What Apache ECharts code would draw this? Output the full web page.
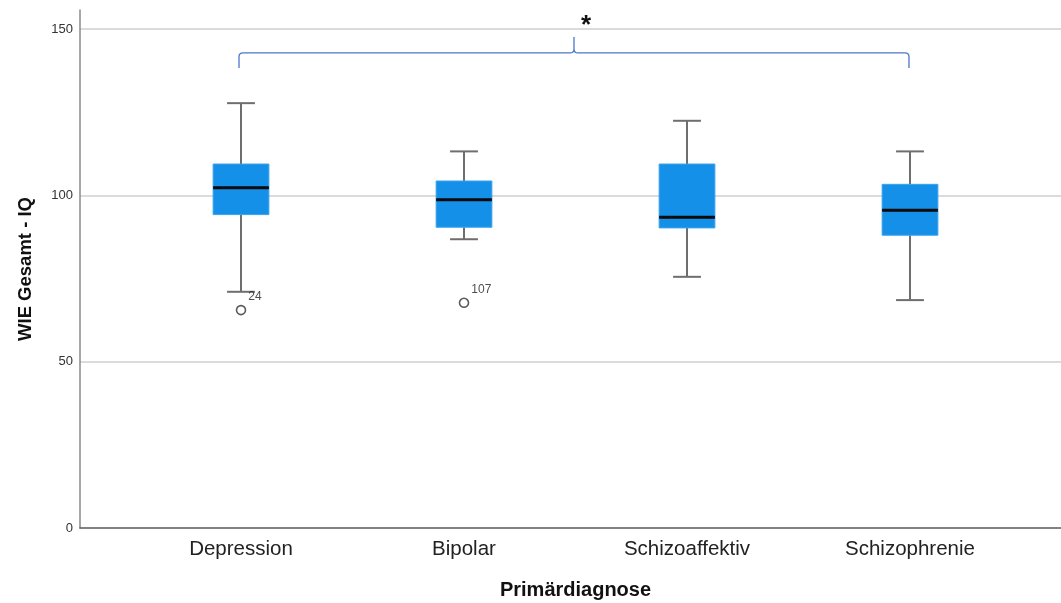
<!DOCTYPE html>
<html>
<head>
<meta charset="utf-8">
<script src="https://cdn.jsdelivr.net/npm/echarts@6/dist/echarts.min.js"></script>
<style>
  html, body { margin: 0; padding: 0; background: #fff; }
  #chart { width: 1061px; height: 603px; }
</style>
</head>
<body>
<div id="chart"></div>
<script>
// Groups along the x axis
const categories = ['Depression', 'Bipolar', 'Schizoaffektiv', 'Schizophrenie'];

// Five-number summaries per group (WIE total IQ)
const lowerWhisker = [71.0, 86.8, 75.5, 68.5];
const q1 = [94.2, 90.4, 90.2, 88.0];
const median = [102.3, 98.7, 93.4, 95.5];
const q3 = [109.4, 104.3, 109.4, 103.3];
const upperWhisker = [127.7, 113.2, 122.4, 113.2];

// Outliers: group, value, case number
const outlierGroups = ['Depression', 'Bipolar'];
const outlierValues = [65.5, 67.7];
const outlierIds = ['24', '107'];

// Significance bracket: from group, to group, bar level, end level, peak level
const bracketFrom = 'Depression';
const bracketTo = 'Schizophrenie';
const bracketLevel = 142.8;
const bracketEnd = 138.3;
const bracketPeak = 147.6;
const bracketMarkLevel = 151.0;
const bracketMark = '*';

// y axis ticks
const yTicks = [0, 50, 100, 150];
const yMin = 0;
const yMax = 155.7;

const FONT = '"Liberation Sans", Arial, sans-serif';

const boxData = categories.map((c, i) =>
  [i, lowerWhisker[i], q1[i], median[i], q3[i], upperWhisker[i]]);

const outlierData = outlierGroups.map((g, i) => ({
  value: [categories.indexOf(g), outlierValues[i]],
  label: { formatter: outlierIds[i] }
}));

function renderBox(params, api) {
  const x = api.value(0);
  const pLow = api.coord([x, api.value(1)]);
  const pQ1 = api.coord([x, api.value(2)]);
  const pMed = api.coord([x, api.value(3)]);
  const pQ3 = api.coord([x, api.value(4)]);
  const pHigh = api.coord([x, api.value(5)]);
  const band = api.size([1, 0])[0];
  const boxW = band * 0.25;
  const capW = boxW * 0.5;
  const cx = pMed[0];
  const whisker = { stroke: '#6e6e6e', lineWidth: 2 };
  return {
    type: 'group',
    children: [
      { type: 'line', shape: { x1: cx, y1: pHigh[1], x2: cx, y2: pQ3[1] }, style: whisker },
      { type: 'line', shape: { x1: cx, y1: pQ1[1], x2: cx, y2: pLow[1] }, style: whisker },
      { type: 'line', shape: { x1: cx - capW / 2, y1: pHigh[1], x2: cx + capW / 2, y2: pHigh[1] }, style: whisker },
      { type: 'line', shape: { x1: cx - capW / 2, y1: pLow[1], x2: cx + capW / 2, y2: pLow[1] }, style: whisker },
      { type: 'rect', shape: { x: cx - boxW / 2, y: pQ3[1], width: boxW, height: pQ1[1] - pQ3[1] },
        style: { fill: '#1590e8', stroke: '#3aa2ee', lineWidth: 1 } },
      { type: 'line', shape: { x1: cx - boxW / 2, y1: pMed[1], x2: cx + boxW / 2, y2: pMed[1] },
        style: { stroke: '#0a0a0a', lineWidth: 3 } }
    ]
  };
}

function renderBracket(params, api) {
  const a = api.coord([api.value(0), api.value(2)]);
  const b = api.coord([api.value(1), api.value(2)]);
  const yEnd = api.coord([api.value(0), api.value(3)])[1];
  const yPeak = api.coord([api.value(0), api.value(4)])[1];
  const yText = api.coord([api.value(0), api.value(5)])[1];
  const y = a[1];
  const x1 = a[0] - 2, x2 = b[0] - 1;
  const xm = (x1 + x2) / 2;
  const r = 4;
  const d = [
    'M', x1, yEnd,
    'L', x1, y + r,
    'Q', x1, y, x1 + r, y,
    'L', xm - r, y,
    'Q', xm, y, xm, y - r,
    'L', xm, yPeak,
    'M', xm, y - r,
    'Q', xm, y, xm + r, y,
    'L', x2 - r, y,
    'Q', x2, y, x2, y + r,
    'L', x2, yEnd
  ].join(' ');
  return {
    type: 'group',
    children: [
      { type: 'path', shape: { pathData: d },
        style: { stroke: '#4a78c9', lineWidth: 1.3, fill: null } },
      { type: 'text', x: xm + 12, y: yText,
        style: { text: bracketMark, fill: '#111', font: 'bold 26px ' + FONT,
                 textAlign: 'center', textVerticalAlign: 'middle' } }
    ]
  };
}

const chart = echarts.init(document.getElementById('chart'), null, { renderer: 'canvas' });

chart.setOption({
  animation: false,
  backgroundColor: '#ffffff',
  grid: [
    { left: 80, right: 0, top: 10, bottom: 75, outerBoundsMode: 'none', containLabel: false },
    { left: 129.5, right: 39.5, top: 10, bottom: 75, outerBoundsMode: 'none', containLabel: false }
  ],
  xAxis: [
    {
      gridIndex: 0, type: 'value', min: 0, max: 1,
      axisLine: { show: true, lineStyle: { color: '#5a5a5a', width: 1.5 } },
      axisTick: { show: false }, axisLabel: { show: false }, splitLine: { show: false }
    },
    {
      gridIndex: 1, type: 'category', data: categories,
      axisLine: { show: false }, axisTick: { show: false },
      axisLabel: { color: '#222', fontSize: 20.5, fontFamily: FONT, margin: 11 },
      name: 'Primärdiagnose', nameLocation: 'middle', nameGap: 52,
      nameTextStyle: { color: '#111', fontSize: 20, fontWeight: 'bold', fontFamily: FONT }
    }
  ],
  yAxis: [
    {
      gridIndex: 0, type: 'value', min: yMin, max: yMax, interval: 50,
      axisLine: { show: true, lineStyle: { color: '#8a8a8a', width: 1.5 } },
      axisTick: { show: false },
      axisLabel: {
        color: '#333', fontSize: 13, fontFamily: FONT, margin: 7, showMaxLabel: false,
        formatter: v => (yTicks.indexOf(v) >= 0 ? String(v) : '')
      },
      splitLine: { show: true, showMinLine: false, showMaxLine: false,
                   lineStyle: { color: '#cfcfcf', width: 1.5 } },
      name: 'WIE Gesamt - IQ', nameLocation: 'middle', nameGap: 45,
      nameTextStyle: { color: '#111', fontSize: 18.5, fontWeight: 'bold', fontFamily: FONT }
    },
    {
      gridIndex: 1, type: 'value', min: yMin, max: yMax, show: false
    }
  ],
  series: [
    {
      type: 'custom', xAxisIndex: 1, yAxisIndex: 1,
      renderItem: renderBox, data: boxData,
      encode: { x: 0, y: [1, 2, 3, 4, 5] }, z: 3
    },
    {
      type: 'scatter', xAxisIndex: 1, yAxisIndex: 1,
      data: outlierData, symbol: 'circle', symbolSize: 9,
      itemStyle: { color: '#fff', borderColor: '#333', borderWidth: 1.6 },
      label: {
        show: true, position: 'right', offset: [0, -13],
        color: '#222', fontSize: 12, fontFamily: FONT, distance: 2
      },
      z: 4
    },
    {
      type: 'custom', xAxisIndex: 1, yAxisIndex: 1,
      renderItem: renderBracket,
      data: [[categories.indexOf(bracketFrom), categories.indexOf(bracketTo),
               bracketLevel, bracketEnd, bracketPeak, bracketMarkLevel]],
      encode: { x: [0, 1], y: [2, 3, 4] }, z: 5, clip: false
    }
  ]
});
</script>
</body>
</html>
